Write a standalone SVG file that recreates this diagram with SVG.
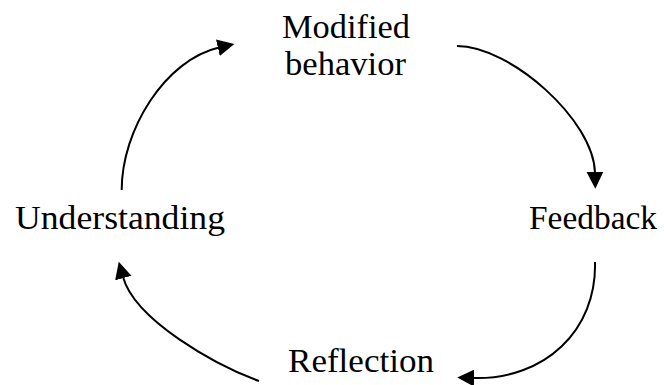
<svg xmlns="http://www.w3.org/2000/svg" width="664" height="385" viewBox="0 0 664 385">
  <style>
    .lbl { font-family: "Liberation Serif", "DejaVu Serif", serif; font-size: 33.5px; fill: #000; }
    .conn { fill: none; stroke: #000; stroke-width: 2; marker-end: url(#arrow); }
  </style>
  <defs>
    <marker id="arrow" markerUnits="userSpaceOnUse" markerWidth="18" markerHeight="18" viewBox="0 -8 16 16" refX="1" refY="0" orient="auto">
      <path d="M0,-7.5 L15,0 L0,7.5 Z" fill="#000"/>
    </marker>
  </defs>
  <rect width="664" height="385" fill="#fff"/>
  <g id="node-modified-behavior">
    <text class="lbl" x="282" y="38" textLength="128" lengthAdjust="spacingAndGlyphs">Modified</text>
    <text class="lbl" x="285" y="75" textLength="121" lengthAdjust="spacingAndGlyphs">behavior</text>
  </g>
  <g id="node-feedback">
    <text class="lbl" x="529" y="229" textLength="128" lengthAdjust="spacingAndGlyphs">Feedback</text>
  </g>
  <g id="node-reflection">
    <text class="lbl" x="288" y="372" textLength="146" lengthAdjust="spacingAndGlyphs">Reflection</text>
  </g>
  <g id="node-understanding">
    <text class="lbl" x="15" y="229" textLength="210" lengthAdjust="spacingAndGlyphs">Understanding</text>
  </g>
  <g id="connectors">
    <path class="conn" d="M121.7,190 C121.7,130 165,60 219,47.5"/>
    <path class="conn" d="M457,46 C510,46 594,120 595,173"/>
    <path class="conn" d="M595,262 C597,330 545,380 473,378"/>
    <path class="conn" d="M259,381 C215,365 135,320 123,277"/>
  </g>
</svg>
